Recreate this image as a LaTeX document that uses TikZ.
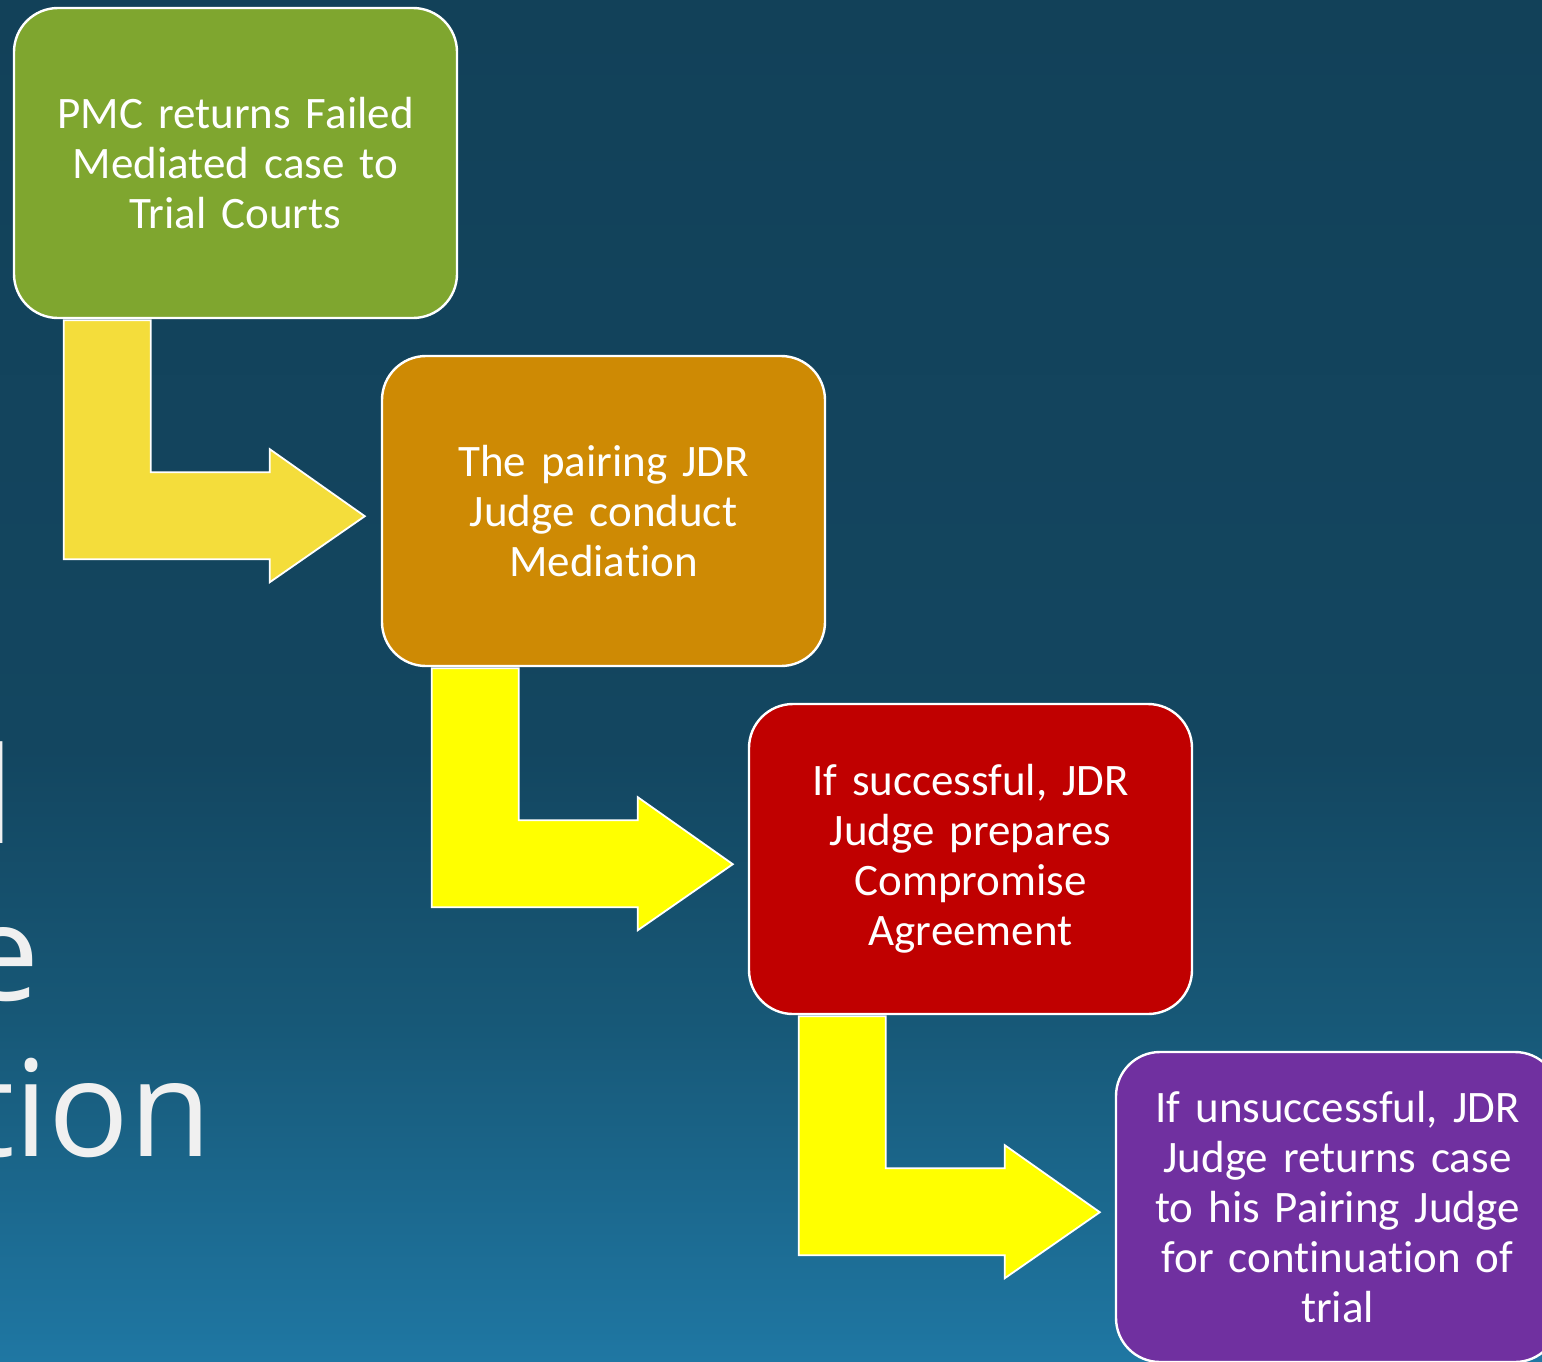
\documentclass[tikz,border=0pt]{standalone}
\usepackage{fontspec}
\setmainfont[RawFeature={-liga;-dlig}]{Carlito}
\newfontfamily\titlefont{Open Sans}
\usetikzlibrary{calc}
\definecolor{bgtop}{HTML}{124159}
\definecolor{bgmid}{HTML}{134660}
\definecolor{bgmid2}{HTML}{175877}
\definecolor{bgbot}{HTML}{1F77A3}
\definecolor{cgreen}{HTML}{7FA62F}
\definecolor{corange}{HTML}{CE8A04}
\definecolor{cred}{HTML}{C00000}
\definecolor{cpurple}{HTML}{7030A0}
\definecolor{cyel1}{HTML}{F4DD3B}
\definecolor{cyel2}{HTML}{FFFF00}
\definecolor{ctitle}{HTML}{F0F0F0}
\pgfdeclareverticalshading{slidebg}{100bp}{color(0bp)=(bgbot); color(25bp)=(bgbot); color(37.5bp)=(bgmid2); color(47.5bp)=(bgmid); color(75bp)=(bgtop); color(100bp)=(bgtop)}
\tikzset{
  stepbox/.style={draw=white, line width=1.2pt, rounded corners=22pt,
    minimum width=221.5pt, minimum height=155pt, text width=210pt,
    align=center, text=white, inner sep=0pt,
    font=\fontsize{22.5}{25}\selectfont},
  bentarrow/.style={draw=white, line width=0.9pt},
  titletext/.style={text=ctitle, inner sep=0pt, anchor=base east,
    font=\titlefont\fontsize{67}{80}\selectfont}
}
\begin{document}
\begin{tikzpicture}[x=0.5pt,y=-0.5pt]
\useasboundingbox (0,0) rectangle (1542,1361);
\clip (0,0) rectangle (1542,1361);
\shade[shading=slidebg] (0,0) rectangle (1542,1361);
% partial title text
\node[titletext] (t1) at (15,843) {l};
\node[titletext] (t2) at (40,1000) {e};
\node[titletext] (t3) at (212,1156) {tion};
% boxes
\node[stepbox, fill=cgreen] (b1) at (235.5,163) {PMC returns Failed\\Mediated case to\\Trial Courts};
\node[stepbox, fill=corange] (b2) at (603.5,511) {The pairing JDR\\Judge conduct\\Mediation};
\node[stepbox, fill=cred] (b3) at (970.5,859) {If successful, JDR\\Judge prepares\\Compromise\\Agreement};
\node[stepbox, fill=cpurple] (b4) at (1337.5,1207) {If unsuccessful, JDR\\Judge returns case\\to his Pairing Judge\\for continuation of\\trial};
% bent arrows
\foreach \b/\c in {b1/cyel1, b2/cyel2, b3/cyel2}{
  \begin{scope}[shift={(\b.south west)}]
    \draw[bentarrow, fill=\c] (51,1) -- (138,1) -- (138,153) -- (257,153) -- (257,130)
      -- (352,197) -- (257,263) -- (257,240) -- (51,240) -- cycle;
  \end{scope}
}
\end{tikzpicture}
\end{document}
